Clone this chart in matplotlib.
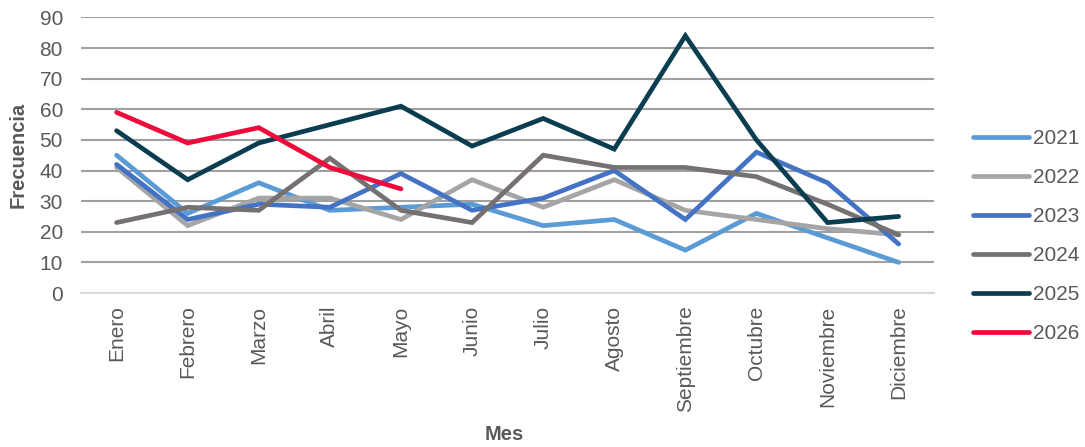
import matplotlib
matplotlib.use('Agg')
import matplotlib.pyplot as plt

# =============================================================================
# data
# =============================================================================

meses = ['Enero', 'Febrero', 'Marzo', 'Abril', 'Mayo', 'Junio', 'Julio',
         'Agosto', 'Septiembre', 'Octubre', 'Noviembre', 'Diciembre']

f2021 = [45, 26, 36, 27, 28, 29, 22, 24, 14, 26, 18, 10]
f2022 = [41, 22, 31, 31, 24, 37, 28, 37, 27, 24, 21, 19]
f2023 = [42, 24, 29, 28, 39, 27, 31, 40, 24, 46, 36, 16]
f2024 = [23, 28, 27, 44, 27, 23, 45, 41, 41, 38, 29, 19]
f2025 = [53, 37, 49, 55, 61, 48, 57, 47, 84, 50, 23, 25]
f2026 = [59, 49, 54, 41, 34]

series = [('2021', f2021, '#5B9BD5'),
          ('2022', f2022, '#A5A5A5'),
          ('2023', f2023, '#4472C4'),
          ('2024', f2024, '#767171'),
          ('2025', f2025, '#0A3D4F'),
          ('2026', f2026, '#EE0A3A')]

plt.rcParams['font.family'] = ['Liberation Sans', 'DejaVu Sans']

fig = plt.figure(figsize=(10.85, 4.47), dpi=100)
ax = fig.add_axes([0.0747, 0.3445, 0.7863, 0.6165])

for name, vals, col in series:
    ax.plot(meses[:len(vals)], vals, color=col, lw=3.4, label=name,
            solid_capstyle='round', solid_joinstyle='miter')

ax.set_xlim(-0.5, 11.5)
ax.set_ylim(0, 90)
ax.set_yticks(range(0, 91, 10))
ax.yaxis.grid(True, color='#A0A0A0', lw=1.5)
ax.set_axisbelow(True)
for s in ['top', 'right', 'left']:
    ax.spines[s].set_visible(False)
ax.spines['bottom'].set_color('#D9D9D9')
ax.spines['bottom'].set_linewidth(1.5)

ax.tick_params(axis='both', length=0, labelsize=15, labelcolor='#595959')
ax.tick_params(axis='y', pad=13)
ax.tick_params(axis='x', pad=9, labelrotation=90)

# axis titles placed in figure coords
fig.text(18 / 1085, 1 - 155 / 447, 'Frecuencia', rotation=90, fontsize=14.5,
         fontweight='bold', color='#595959', ha='center', va='center')
fig.text(504 / 1085, 1 - 435 / 447, 'Mes', fontsize=14.5,
         fontweight='bold', color='#595959', ha='center', va='center')

leg = fig.legend(loc='center left', bbox_to_anchor=(973 / 1085, 0.472),
                 frameon=False, fontsize=15, handlelength=2.7,
                 handletextpad=0.2, labelspacing=0.96, borderpad=0,
                 borderaxespad=0)
for t in leg.get_texts():
    t.set_color('#595959')

fig.savefig('out.png', dpi=100)
